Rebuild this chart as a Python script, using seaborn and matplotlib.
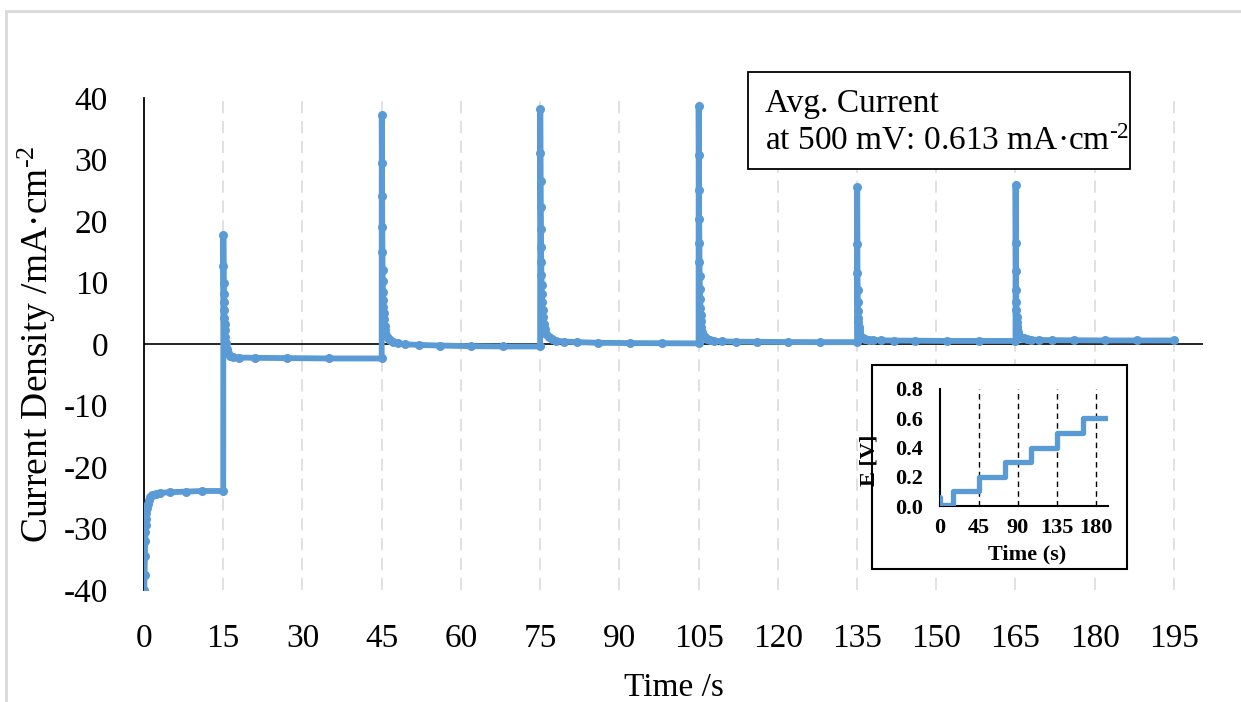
import numpy as np
import pandas as pd
import matplotlib
matplotlib.use("Agg")
import matplotlib.pyplot as plt
import seaborn as sns
from matplotlib.patches import Rectangle
from matplotlib.lines import Line2D

# ---------------- data ----------------
# first step (0-15 s)
t_seg0 = [0.05, 0.1, 0.15, 0.2, 0.25, 0.3, 0.35, 0.45, 0.55, 0.7, 0.9, 1.2, 1.6, 2.2, 3, 5, 8, 11, 15]
j_seg0 = [-40, -37.5, -34.5, -32, -30.5, -29.5, -28.5, -27.5, -26.7, -26, -25.4, -24.9, -24.6, -24.4,
          -24.2, -24.1, -24.0, -23.9, -23.9]

# second step (15-45 s)
t_seg1 = [15.02, 15.05, 15.08, 15.11, 15.14, 15.18, 15.22, 15.27, 15.33, 15.4, 15.5, 15.65, 15.85,
          16.2, 16.8, 18, 21, 27, 35, 45]
j_seg1 = [17.8, 12.7, 10.0, 8.2, 6.8, 5.5, 4.3, 3.2, 2.2, 1.2, 0.2, -0.8, -1.5, -1.9, -2.1, -2.2,
          -2.25, -2.3, -2.35, -2.35]

# sampling times after each later potential step (s)
t_after_step = [0.02, 0.05, 0.08, 0.11, 0.14, 0.17, 0.2, 0.24, 0.28, 0.33, 0.38, 0.45, 0.55, 0.7, 0.9,
                1.2, 1.6, 2.2, 3, 4.5, 7, 11, 17, 23, 30]
step_starts = [45, 75, 105, 135, 165]
j_seg2 = [37.2, 29.5, 24.0, 19.0, 15.0, 12.0, 10.2, 8.5, 7.2, 6.0, 5.0, 4.0, 3.0, 2.2, 1.5, 1.0, 0.6,
          0.3, 0.1, -0.05, -0.15, -0.25, -0.35, -0.4, -0.4]
j_seg3 = [38.2, 31.0, 26.5, 22.2, 18.7, 15.8, 13.3, 11.3, 9.6, 8.1, 6.8, 5.6, 4.4, 3.3, 2.4, 1.7, 1.2,
          0.8, 0.55, 0.4, 0.3, 0.2, 0.15, 0.12, 0.1]
j_seg4 = [38.7, 30.8, 25.0, 20.3, 16.5, 13.4, 11.0, 9.0, 7.3, 5.9, 4.7, 3.7, 2.8, 2.0, 1.5, 1.1, 0.85,
          0.65, 0.5, 0.42, 0.38, 0.35, 0.32, 0.3, 0.3]
j_seg5 = [25.5, 16.2, 11.6, 8.7, 6.8, 5.4, 4.3, 3.5, 2.8, 2.3, 1.9, 1.6, 1.35, 1.15, 1.0, 0.9, 0.8,
          0.72, 0.66, 0.6, 0.56, 0.53, 0.5, 0.5, 0.5]
j_seg6 = [25.8, 16.5, 11.8, 8.8, 6.9, 5.5, 4.4, 3.6, 2.9, 2.4, 2.0, 1.7, 1.45, 1.25, 1.1, 1.0, 0.9,
          0.8, 0.72, 0.66, 0.62, 0.6, 0.58, 0.57, 0.57]

# inset: applied potential
t_E = [0, 0, 0.5, 15, 15, 45, 45, 75, 75, 105, 105, 135, 135, 165, 165, 195]
E_V = [0.06, 0.01, 0.01, 0.01, 0.1, 0.1, 0.2, 0.2, 0.3, 0.3, 0.4, 0.4, 0.5, 0.5, 0.6, 0.6]

x_ticks = [0, 15, 30, 45, 60, 75, 90, 105, 120, 135, 150, 165, 180, 195]
y_ticks = [-40, -30, -20, -10, 0, 10, 20, 30, 40]
inset_x_ticks = [0, 45, 90, 135, 180]
inset_y_ticks = [0.0, 0.2, 0.4, 0.6, 0.8]
inset_dash_times = [45, 90, 135, 180]

SUP = r"$^{\text{-2}}$"
box_line1 = "Avg. Current"
box_line2 = "at 500 mV: 0.613 mA·cm" + SUP
y_label = "Current Density /mA·cm" + SUP
x_label = "Time /s"

# ---------------- build table ----------------
times = list(t_seg0) + list(t_seg1)
currents = list(j_seg0) + list(j_seg1)
for start, seg in zip(step_starts, [j_seg2, j_seg3, j_seg4, j_seg5, j_seg6]):
    times += [start + dt for dt in t_after_step]
    currents += seg
df = pd.DataFrame({"Time": times, "J": currents})
df_E = pd.DataFrame({"t": t_E, "E": E_V})

# ---------------- style ----------------
sns.set_theme(style="white")
plt.rcParams["font.family"] = ["Liberation Serif", "DejaVu Serif"]
plt.rcParams["mathtext.fontset"] = "custom"
plt.rcParams["mathtext.rm"] = "Liberation Serif"
plt.rcParams["mathtext.it"] = "Liberation Serif:italic"
plt.rcParams["mathtext.bf"] = "Liberation Serif:bold"
plt.rcParams["axes.unicode_minus"] = False
plt.rcParams["text.color"] = "black"
plt.rcParams["axes.labelcolor"] = "black"
plt.rcParams["xtick.color"] = "black"
plt.rcParams["ytick.color"] = "black"

BLUE = "#5B9BD5"
GRID = "#d9d9d9"
W, H = 1241, 702
fig = plt.figure(figsize=(W / 100, H / 100), dpi=100)

# main axes
ax = fig.add_axes([144 / W, 1 - 590 / H, (1203 - 144) / W, (590 - 98) / H])
ax.set_xlim(0, 200.5)
ax.set_ylim(-40, 40)
for x in x_ticks[1:]:
    ax.axvline(x, color=GRID, lw=1.1, ls=(0, (8, 5)), zorder=0)
ax.axhline(0, color="black", lw=1.2, zorder=1)
sns.lineplot(data=df, x="Time", y="J", sort=False, estimator=None, ax=ax, color=BLUE,
             lw=4.2, marker="o", markersize=6.5, markeredgewidth=0, zorder=3)

for s in ["top", "right", "bottom"]:
    ax.spines[s].set_visible(False)
ax.spines["left"].set_color("black")
ax.spines["left"].set_linewidth(1.3)
ax.set_xticks(x_ticks)
ax.set_yticks(y_ticks)
ax.tick_params(axis="both", length=0, labelsize=24, colors="black")
ax.tick_params(axis="y", pad=26)
ax.tick_params(axis="x", pad=24)
ax.set_xlabel(x_label, fontsize=24, color="black")
ax.set_ylabel(y_label, fontsize=27, color="black")
ax.xaxis.set_label_coords(0.5, -0.167)
ax.yaxis.set_label_coords(-0.081, 0.5)
ax.grid(False)

# text box
fig.patches.append(Rectangle((748 / W, 1 - 169 / H), (1130 - 748) / W, (169 - 72) / H,
                             transform=fig.transFigure, facecolor="white", edgecolor="black",
                             lw=1.3, zorder=1))
fig.text(765 / W, 1 - 112 / H, box_line1, fontsize=24, va="baseline", ha="left", zorder=2,
         color="black")
fig.text(765 / W, 1 - 150 / H, box_line2, fontsize=24, va="baseline", ha="left", zorder=2,
         color="black")

# inset frame
fig.patches.append(Rectangle((872 / W, 1 - 569 / H), (1127 - 872) / W, (569 - 365) / H,
                             transform=fig.transFigure, facecolor="white", edgecolor="black",
                             lw=1.5, zorder=1))

# inset axes
axi = fig.add_axes([940 / W, 1 - 506 / H, (1108 - 940) / W, (506 - 389) / H], zorder=2)
axi.patch.set_alpha(0)
axi.set_xlim(0, 194)
axi.set_ylim(0, 0.8)
for x in inset_dash_times:
    axi.axvline(x, color="black", lw=1.0, ls=(0, (4, 3)), zorder=1)
sns.lineplot(data=df_E, x="t", y="E", sort=False, estimator=None, ax=axi, color=BLUE,
             lw=3.8, zorder=3)
for s in ["top", "right"]:
    axi.spines[s].set_visible(False)
for s in ["left", "bottom"]:
    axi.spines[s].set_color("black")
    axi.spines[s].set_linewidth(1.5)
axi.set_xticks(inset_x_ticks)
axi.set_yticks(inset_y_ticks)
axi.set_yticklabels([f"{v:.1f}" for v in inset_y_ticks])
axi.tick_params(axis="both", length=0, labelsize=16, colors="black")
axi.tick_params(axis="x", pad=8.5)
axi.tick_params(axis="y", pad=12)
for lab in axi.get_xticklabels() + axi.get_yticklabels():
    lab.set_fontweight("bold")
axi.set_xlabel("Time (s)", fontsize=16, fontweight="bold", color="black")
axi.set_ylabel("E [V]", fontsize=16, fontweight="bold", color="black")
axi.xaxis.set_label_coords(0.52, -0.33)
axi.yaxis.set_label_coords(-0.36, 0.39)
axi.grid(False)

# light page border
fig.add_artist(Line2D([6 / W, 1], [1 - 11 / H, 1 - 11 / H], transform=fig.transFigure,
                      color=GRID, lw=2))
fig.add_artist(Line2D([6 / W, 6 / W], [0, 1 - 11 / H], transform=fig.transFigure,
                      color=GRID, lw=2))

fig.savefig("out.png", dpi=100, facecolor="white")
